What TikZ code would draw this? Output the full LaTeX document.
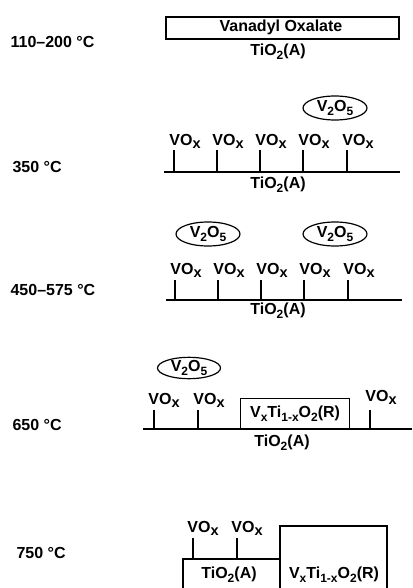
\documentclass[tikz,border=0pt]{standalone}
\usepackage{fontspec}
\setmainfont{Liberation Sans}
\usetikzlibrary{shapes.geometric}
\newcommand\lo[1]{\raisebox{-0.45ex}{\fontsize{12}{12}\selectfont #1}}
\newcommand\vox{VO\raisebox{-0.35ex}{\fontsize{14.5}{14}\selectfont x}}
\newcommand\vto{V\lo{x}Ti\lo{1-x}O\lo{2}(R)}
\newcommand\tia{TiO\lo{2}(A)}
\newcommand\vfive{V\lo{2}O\lo{5}}
\begin{document}
\begin{tikzpicture}[x=1pt,y=-1pt,line width=1.2pt,
  every node/.style={font=\fontsize{16}{18}\bfseries\selectfont,inner sep=0pt},
  templabel/.style={anchor=west},
  oval/.style={ellipse,draw,minimum width=64pt,minimum height=24pt}]
\useasboundingbox (0,0) rectangle (412,588);
% ---------- Row 1 ----------
\node[templabel] (t1) at (10,42) {110–200 °C};
\node[draw,minimum width=233pt,minimum height=22pt] (vo) at (282.5,28) {};
\node (vot) at (281,27) {Vanadyl Oxalate};
\node (a1) at (278,52) {\tia};
% ---------- Row 2 ----------
\node[templabel] (t2) at (12,167) {350 °C};
\coordinate (b2l) at (164,172);
\coordinate (b2r) at (400,172);
\draw (b2l) -- (b2r);
\foreach \i/\x in {1/174,2/217,3/260,4/303,5/347}{
  \coordinate (k2\i) at (\x,172);
  \coordinate (h2\i) at (\x,150);
  \draw (k2\i) -- (h2\i);
  \node (v2\i) at (\x+11,141) {\vox};
}
\node[oval] (e2) at (335,108) {\vfive};
\node (a2) at (278,185) {\tia};
% ---------- Row 3 ----------
\node[templabel] (t3) at (10,290) {450–575 °C};
\coordinate (b3l) at (166,300);
\coordinate (b3r) at (402,300);
\draw (b3l) -- (b3r);
\foreach \i/\x in {1/175,2/218,3/261,4/304,5/348}{
  \coordinate (k3\i) at (\x,300);
  \coordinate (h3\i) at (\x,280);
  \draw (k3\i) -- (h3\i);
  \node (v3\i) at (\x+11,270) {\vox};
}
\node[oval] (e3a) at (208,234) {\vfive};
\node[oval] (e3b) at (335,234) {\vfive};
\node (a3) at (278,311) {\tia};
% ---------- Row 4 ----------
\node[templabel] (t4) at (12,425) {650 °C};
\coordinate (b4l) at (143,429);
\coordinate (b4r) at (412,429);
\draw (b4l) -- (b4r);
\foreach \i/\x in {1/154,2/198,3/370}{
  \coordinate (k4\i) at (\x,429);
  \coordinate (h4\i) at (\x,410);
  \draw (k4\i) -- (h4\i);
}
\node (v41) at (164,400) {\vox};
\node (v42) at (209,400) {\vox};
\node (v43) at (381,397) {\vox};
\node[oval,minimum width=63pt,minimum height=21pt] (e4) at (189,368) {\vfive};
\node[draw,minimum width=109pt,minimum height=30pt,anchor=south west] (r4) at (240,429) {};
\node (r4t) at (r4.center) {\vto};
\node (a4) at (282,443) {\tia};
% ---------- Row 5 ----------
\node[templabel] (t5) at (16,553) {750 °C};
\coordinate (ta1) at (183,590);
\coordinate (ta2) at (183,559);
\coordinate (ta3) at (280,559);
\coordinate (ta4) at (280,526);
\coordinate (ta5) at (387,526);
\coordinate (ta6) at (387,590);
\coordinate (tm) at (280,590);
\draw (ta1) -- (ta2) -- (ta3) -- (ta4) -- (ta5) -- (ta6);
\draw (ta3) -- (tm);
\foreach \i/\x in {1/193,2/237}{
  \coordinate (k5\i) at (\x,559);
  \coordinate (h5\i) at (\x,538);
  \draw (k5\i) -- (h5\i);
  \node (v5\i) at (\x+10,528) {\vox};
}
\node (a5) at (229,575) {\tia};
\node (r5) at (334,575) {\vto};
\end{tikzpicture}
\end{document}
